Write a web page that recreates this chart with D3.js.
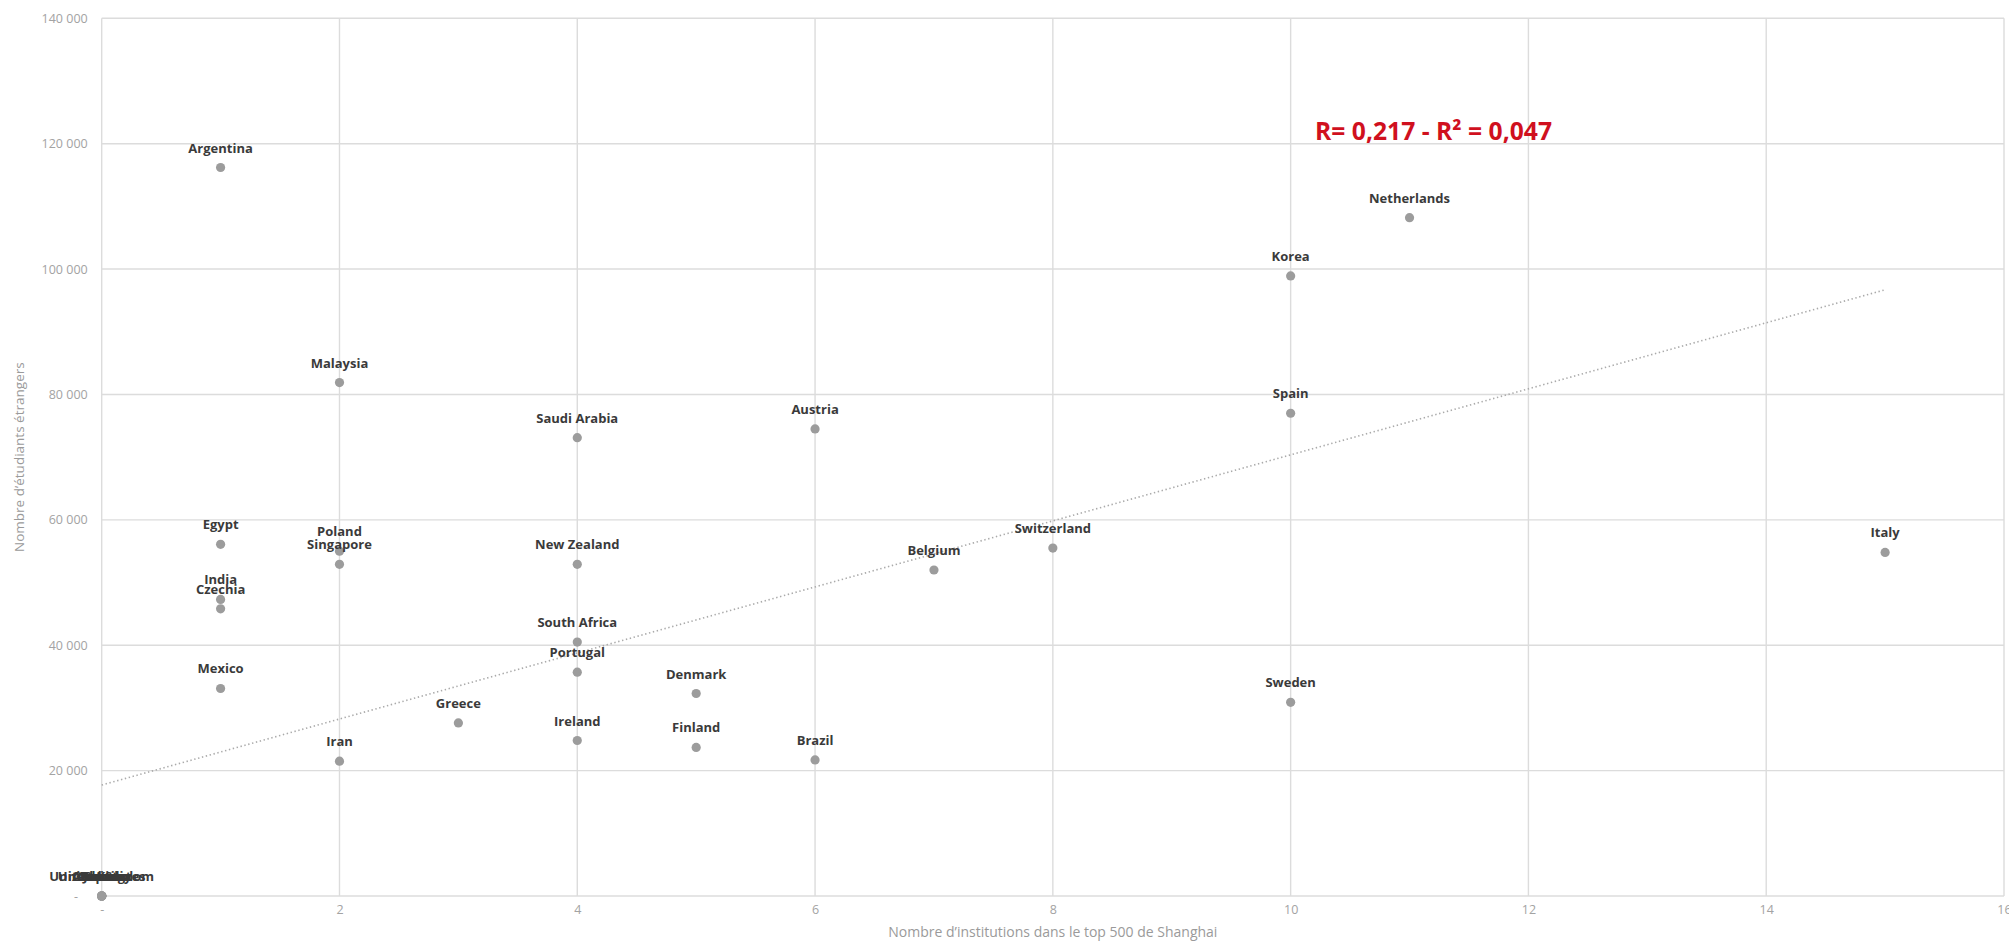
<!DOCTYPE html>
<html>
<head>
<meta charset="utf-8">
<script src="https://cdn.jsdelivr.net/npm/d3@7"></script>
<style>
  html, body { margin: 0; padding: 0; background: #ffffff; }
  svg { display: block; }
</style>
</head>
<body>
<svg id="chart" width="2009" height="946"></svg>
<script>
// Countries: number of Shanghai top-500 institutions vs. number of foreign students
const countries = [
  "Argentina", "Netherlands", "Korea", "Malaysia", "Spain", "Austria", "Saudi Arabia",
  "Egypt", "Switzerland", "Poland", "Italy", "Singapore", "New Zealand", "Belgium",
  "India", "Czechia", "South Africa", "Portugal", "Mexico", "Denmark", "Sweden",
  "Greece", "Ireland", "Finland", "Brazil", "Iran",
  "United Kingdom", "United States", "Australia", "Germany", "France", "Canada", "Japan", "China", "Russia"
];
const institutions = [
  1, 11, 10, 2, 10, 6, 4,
  1, 8, 2, 15, 2, 4, 7,
  1, 1, 4, 4, 1, 5, 10,
  3, 4, 5, 6, 2,
  0, 0, 0, 0, 0, 0, 0, 0, 0
];
const students = [
  116200, 108200, 98900, 81900, 77000, 74500, 73100,
  56100, 55500, 55000, 54800, 52900, 52900, 52000,
  47300, 45800, 40500, 35700, 33100, 32300, 30900,
  27600, 24800, 23700, 21700, 21500,
  0, 0, 0, 0, 0, 0, 0, 0, 0
];

// Trend line end points (institutions, students)
const trendX = [0, 15];
const trendY = [17700, 96700];

// Axis ticks
const xTicks = [0, 2, 4, 6, 8, 10, 12, 14, 16];
const yTicks = [0, 20000, 40000, 60000, 80000, 100000, 120000, 140000];

const xTitle = "Nombre d\u2019institutions dans le top 500 de Shanghai";
const yTitle = "Nombre d\u2019\u00e9tudiants \u00e9trangers";
const statText = "R= 0,217 - R\u00b2 = 0,047";

const svg = d3.select("#chart");
const plotL = 101.7, plotR = 2004, plotT = 18.3, plotB = 896;

const x = d3.scaleLinear().domain([0, 16]).range([plotL, plotR]);
const y = d3.scaleLinear().domain([0, 140000]).range([plotB, plotT]);

const fmtY = v => v === 0 ? "-\u00a0\u00a0\u00a0" : d3.format(",")(v).replace(/,/g, " ");
const fmtX = v => v === 0 ? "-" : String(v);

// Grid lines
const grid = svg.append("g");
grid.selectAll("line.h").data(yTicks).join("line")
  .attr("class", "h")
  .attr("x1", plotL).attr("x2", plotR)
  .attr("y1", d => y(d)).attr("y2", d => y(d))
  .attr("stroke", "#dcdcdc").attr("stroke-width", 1.4);
grid.selectAll("line.v").data(xTicks).join("line")
  .attr("class", "v")
  .attr("x1", d => x(d)).attr("x2", d => x(d))
  .attr("y1", plotT).attr("y2", plotB)
  .attr("stroke", "#dcdcdc").attr("stroke-width", 1.4);

// Axes (labels only)
const yAxis = d3.axisLeft(y).tickValues(yTicks).tickFormat(fmtY).tickSize(0).tickPadding(14);
const gy = svg.append("g").attr("transform", `translate(${plotL},0)`).call(yAxis);
const xAxis = d3.axisBottom(x).tickValues(xTicks).tickFormat(fmtX).tickSize(0).tickPadding(9);
const gx = svg.append("g").attr("transform", `translate(0,${plotB})`).call(xAxis);
[gx, gy].forEach(g => {
  g.select(".domain").remove();
  g.selectAll("text")
    .attr("fill", "#a3a3a3")
    .style("font-family", "'Open Sans', sans-serif")
    .style("font-size", "12.5px");
});

// Axis titles
svg.append("text")
  .attr("x", (plotL + plotR) / 2).attr("y", 937)
  .attr("text-anchor", "middle")
  .attr("fill", "#9a9a9a")
  .style("font-family", "'Open Sans', sans-serif")
  .style("font-size", "14px")
  .text(xTitle);
svg.append("text")
  .attr("transform", `translate(24,${(plotT + plotB) / 2}) rotate(-90)`)
  .attr("text-anchor", "middle")
  .attr("fill", "#9a9a9a")
  .style("font-family", "'Open Sans', sans-serif")
  .style("font-size", "13.5px")
  .text(yTitle);

// Dotted trend line
svg.append("path")
  .datum(trendX.map((v, i) => [v, trendY[i]]))
  .attr("d", d3.line().x(d => x(d[0])).y(d => y(d[1])))
  .attr("fill", "none")
  .attr("stroke", "#aaaaaa")
  .attr("stroke-width", 1.6)
  .attr("stroke-dasharray", "1.4,2.6");

const pts = countries.map((c, i) => ({ name: c, xi: institutions[i], yi: students[i] }));

// Points
svg.append("g").selectAll("circle").data(pts).join("circle")
  .attr("cx", d => x(d.xi))
  .attr("cy", d => y(d.yi))
  .attr("r", 4.6)
  .attr("fill", "#9c9c9c");

// Country labels
svg.append("g").selectAll("text").data(pts).join("text")
  .attr("x", d => x(d.xi))
  .attr("y", d => y(d.yi) - 15)
  .attr("text-anchor", "middle")
  .attr("fill", "#3a3a3a")
  .style("font-family", "'Open Sans', sans-serif")
  .style("font-weight", "bold")
  .style("font-size", "13px")
  .text(d => d.name);

// Correlation annotation
svg.append("text")
  .attr("x", 1315).attr("y", 140)
  .attr("fill", "#d0101e")
  .style("font-family", "'Open Sans', sans-serif")
  .style("font-weight", "bold")
  .style("font-size", "25px")
  .attr("textLength", 237)
  .attr("lengthAdjust", "spacingAndGlyphs")
  .text(statText);
</script>
</body>
</html>
